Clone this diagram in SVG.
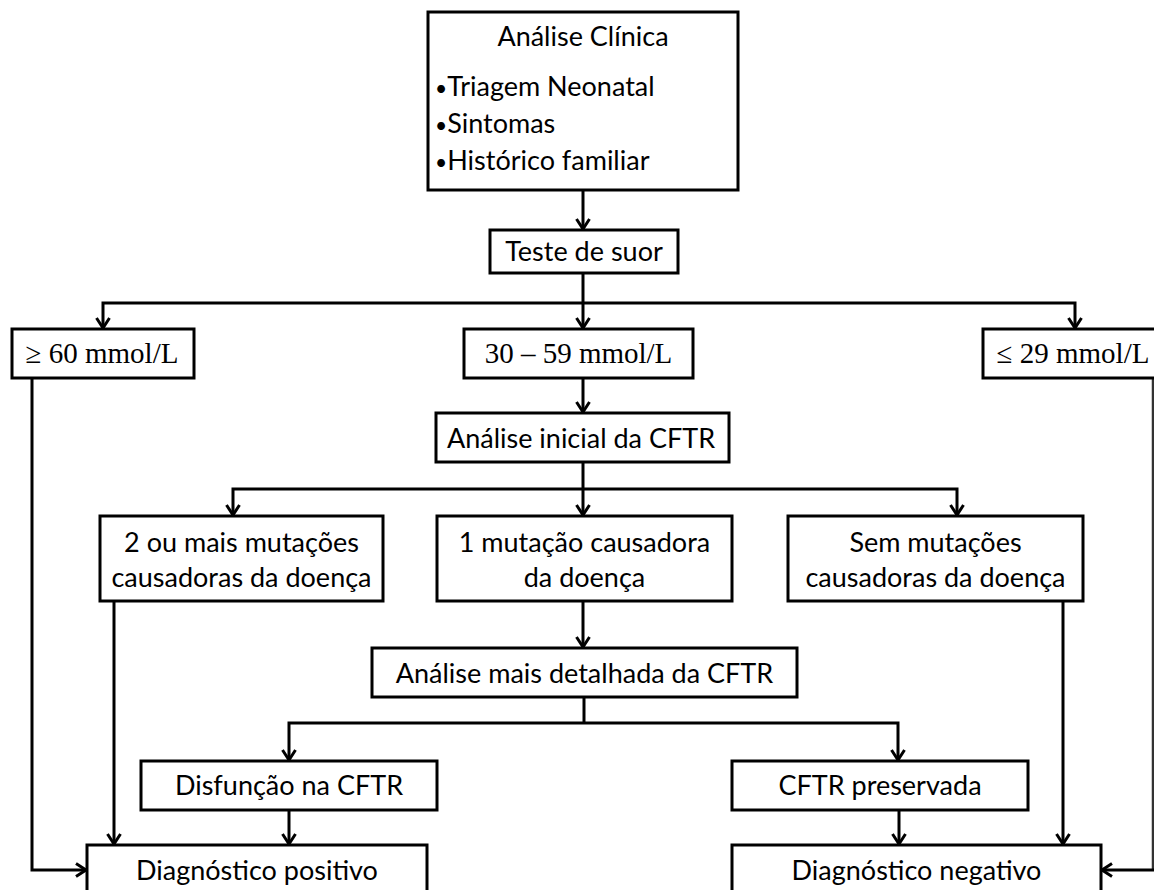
<svg xmlns="http://www.w3.org/2000/svg" width="1154" height="890" viewBox="0 0 1154 890">
  <style>
    .box { fill: #ffffff; stroke: #000000; stroke-width: 3; }
    .lbl { font-family: Lato, "Open Sans", sans-serif; font-size: 27px; fill: #000000; }
    .mid { text-anchor: middle; }
    .dot { font-size: 21px; }
    .num { font-family: "Liberation Serif", "Times New Roman", serif; font-size: 29px; fill: #000000; text-anchor: middle; }
    .wire { fill: none; stroke: #000000; stroke-width: 3; }
    .edge { stroke: #333333; stroke-width: 2.5; }
    .arr { marker-end: url(#head); }
  </style>
  <defs>
    <marker id="head" markerUnits="userSpaceOnUse" markerWidth="20" markerHeight="20" viewBox="-13 -10 15 20" refX="0" refY="0" orient="auto">
      <path d="M-10,-6.5 L0,0 L-10,6.5" fill="none" stroke="#000000" stroke-width="3"/>
    </marker>
  </defs>
  <rect width="1154" height="890" fill="#ffffff"/>

  <!-- connectors -->
  <g id="connectors">
    <path class="wire arr" d="M583,190 V229"/>
    <path class="wire arr" d="M583,273 V328"/>
    <path class="wire arr" d="M583,303 H103 V328"/>
    <path class="wire arr" d="M583,303 H1075 V328"/>
    <path class="wire arr" d="M583,378 V412"/>
    <path class="wire arr" d="M583,462 V515"/>
    <path class="wire arr" d="M583,489 H233 V515"/>
    <path class="wire arr" d="M583,489 H957 V515"/>
    <path class="wire arr" d="M114,601 V844"/>
    <path class="wire arr" d="M583,601 V647"/>
    <path class="wire" d="M584,697 V723"/>
    <path class="wire arr" d="M584,723 H289 V760"/>
    <path class="wire arr" d="M584,723 H898 V760"/>
    <path class="wire arr" d="M289,810 V844"/>
    <path class="wire arr" d="M899,810 V844"/>
    <path class="wire arr" d="M1063,601 V844"/>
    <path class="wire arr" d="M32,378 V870 H86"/>
    <path class="wire edge" d="M1153,378 V870"/>
    <path class="wire arr" d="M1154,870 H1102"/>
  </g>

  <g id="analise-clinica">
    <rect class="box" x="428" y="12" width="310" height="178"/>
    <text class="lbl mid" x="583" y="46">Análise Clínica</text>
    <text class="lbl" x="435" y="96"><tspan class="dot">•</tspan>Triagem Neonatal</text>
    <text class="lbl" x="435" y="133"><tspan class="dot">•</tspan>Sintomas</text>
    <text class="lbl" x="435" y="170"><tspan class="dot">•</tspan>Histórico familiar</text>
  </g>

  <g id="teste-suor">
    <rect class="box" x="490" y="230" width="188" height="43"/>
    <text class="lbl mid" x="584" y="261">Teste de suor</text>
  </g>

  <g id="faixa-alta">
    <rect class="box" x="12" y="329" width="182" height="49"/>
    <text class="num" x="102" y="363">≥ 60 mmol/L</text>
  </g>

  <g id="faixa-intermediaria">
    <rect class="box" x="464" y="329" width="229" height="49"/>
    <text class="num" x="578.5" y="363">30 – 59 mmol/L</text>
  </g>

  <g id="faixa-baixa">
    <rect class="box" x="983" y="329" width="180" height="49"/>
    <text class="num" x="1073" y="363">≤ 29 mmol/L</text>
  </g>

  <g id="analise-inicial">
    <rect class="box" x="436" y="413" width="293" height="49"/>
    <text class="lbl mid" x="581" y="448">Análise inicial da CFTR</text>
  </g>

  <g id="duas-mutacoes">
    <rect class="box" x="100" y="516" width="283" height="85"/>
    <text class="lbl mid" x="241.5" y="552">2 ou mais mutações</text>
    <text class="lbl mid" x="241.5" y="587">causadoras da doença</text>
  </g>

  <g id="uma-mutacao">
    <rect class="box" x="437" y="516" width="295" height="85"/>
    <text class="lbl mid" x="584.5" y="552">1 mutação causadora</text>
    <text class="lbl mid" x="584.5" y="587">da doença</text>
  </g>

  <g id="sem-mutacoes">
    <rect class="box" x="788" y="516" width="295" height="85"/>
    <text class="lbl mid" x="935.5" y="552">Sem mutações</text>
    <text class="lbl mid" x="935.5" y="587">causadoras da doença</text>
  </g>

  <g id="analise-detalhada">
    <rect class="box" x="372" y="648" width="425" height="49"/>
    <text class="lbl mid" x="584.5" y="683">Análise mais detalhada da CFTR</text>
  </g>

  <g id="disfuncao">
    <rect class="box" x="141" y="761" width="296" height="49"/>
    <text class="lbl mid" x="289" y="795">Disfunção na CFTR</text>
  </g>

  <g id="preservada">
    <rect class="box" x="732" y="761" width="296" height="49"/>
    <text class="lbl mid" x="880" y="795">CFTR preservada</text>
  </g>

  <g id="diagnostico-positivo">
    <rect class="box" x="87" y="845" width="340" height="60"/>
    <text class="lbl mid" x="257" y="880">Diagnóstico positivo</text>
  </g>

  <g id="diagnostico-negativo">
    <rect class="box" x="732" y="845" width="369" height="60"/>
    <text class="lbl mid" x="916.5" y="880">Diagnóstico negativo</text>
  </g>
</svg>
